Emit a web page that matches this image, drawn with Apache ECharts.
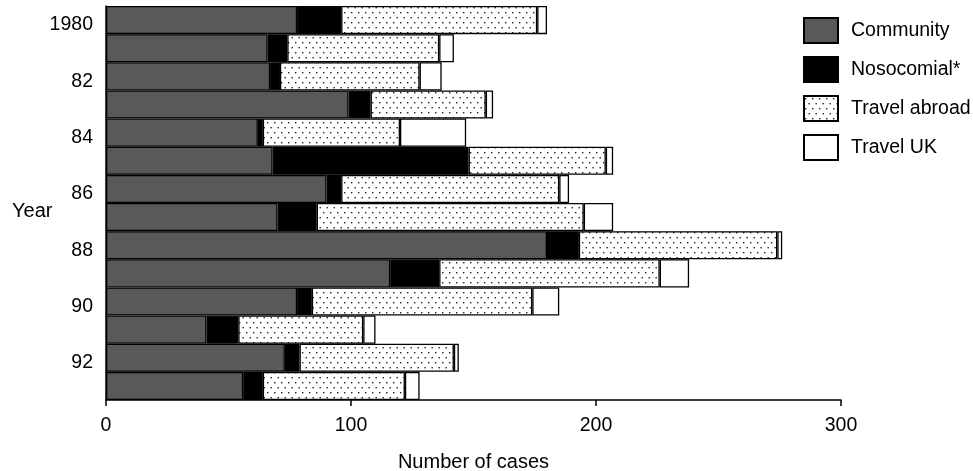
<!DOCTYPE html>
<html>
<head>
<meta charset="utf-8">
<script src="https://cdn.jsdelivr.net/npm/echarts@6/dist/echarts.min.js"></script>
<style>
html,body{margin:0;padding:0;background:#fff;}
#chart{width:973px;height:471px;}
</style>
</head>
<body>
<div id="chart"></div>
<script>
const years = ['1980','81','82','83','84','85','86','87','88','89','90','91','92','93'];
const community   = [78, 66, 67, 99, 62, 68, 90, 70, 180, 116, 78, 41, 73, 56];
const nosocomial  = [18,  8,  4,  9,  2, 80,  6, 16,  13,  20,  6, 13,  6,  8];
const travelAbroad= [80, 62, 57, 47, 56, 56, 89,109,  81,  90, 90, 51, 63, 58];
const travelUK    = [ 4,  6,  9,  3, 27,  3,  4, 12,   2,  12, 11,  5,  2,  6];
const xTicks = [0, 100, 200, 300];
const yAxisTitle = 'Year';

function dotPattern() {
  const c = document.createElement('canvas');
  c.width = 7; c.height = 10;
  const ctx = c.getContext('2d');
  ctx.fillStyle = '#fff';
  ctx.fillRect(0, 0, 7, 10);
  ctx.fillStyle = '#222';
  ctx.fillRect(1, 2, 1.4, 1.4);
  ctx.fillRect(4.5, 7, 1.4, 1.4);
  return c;
}
const pattern = { image: dotPattern(), repeat: 'repeat' };

const chart = echarts.init(document.getElementById('chart'));
const font = 'Liberation Sans, Arial, sans-serif';
function barSeries(name, data, color) {
  return {
    name: name, type: 'bar', stack: 'total', data: data,
    barCategoryGap: '0%',
    itemStyle: { color: color, borderColor: '#000', borderWidth: 1.3 },
    emphasis: { disabled: true }
  };
}
chart.setOption({
  animation: false,
  grid: { left: 106, top: 6, width: 735, height: 394, containLabel: false, outerBoundsMode: 'none' },
  graphic: [{
    type: 'text', left: 12, top: 201, silent: true,
    style: { text: yAxisTitle, fontFamily: font, fontSize: 20, fill: '#000' }
  }],
  legend: {
    orient: 'vertical', left: 803, top: 17, padding: 0,
    itemWidth: 34, itemHeight: 25, itemGap: 12,
    icon: 'rect',
    textStyle: { fontFamily: font, fontSize: 19.5, color: '#000', lineHeight: 25, padding: [0, 0, 0, 8] },
    data: ['Community', 'Nosocomial*', 'Travel abroad', 'Travel UK']
  },
  xAxis: {
    type: 'value', min: xTicks[0], max: xTicks[xTicks.length - 1], interval: 100,
    name: 'Number of cases', nameLocation: 'middle', nameGap: 52,
    nameTextStyle: { fontFamily: font, fontSize: 20, color: '#000' },
    axisLine: { show: true, lineStyle: { color: '#000', width: 1.5 } },
    axisTick: { show: true, length: 6, lineStyle: { color: '#000', width: 1.5 } },
    axisLabel: { fontFamily: font, fontSize: 19.5, color: '#000', margin: 16 },
    splitLine: { show: false }
  },
  yAxis: {
    type: 'category', inverse: true, data: years,
    axisLine: { show: true, lineStyle: { color: '#000', width: 1.5 } },
    axisTick: { show: false },
    axisLabel: { interval: 1, fontFamily: font, fontSize: 19.5, color: '#000', margin: 13, verticalAlign: 'top', lineHeight: 10 }
  },
  series: [
    barSeries('Community', community, '#595959'),
    barSeries('Nosocomial*', nosocomial, '#000'),
    barSeries('Travel abroad', travelAbroad, pattern),
    barSeries('Travel UK', travelUK, '#fff')
  ]
});
</script>
</body>
</html>
